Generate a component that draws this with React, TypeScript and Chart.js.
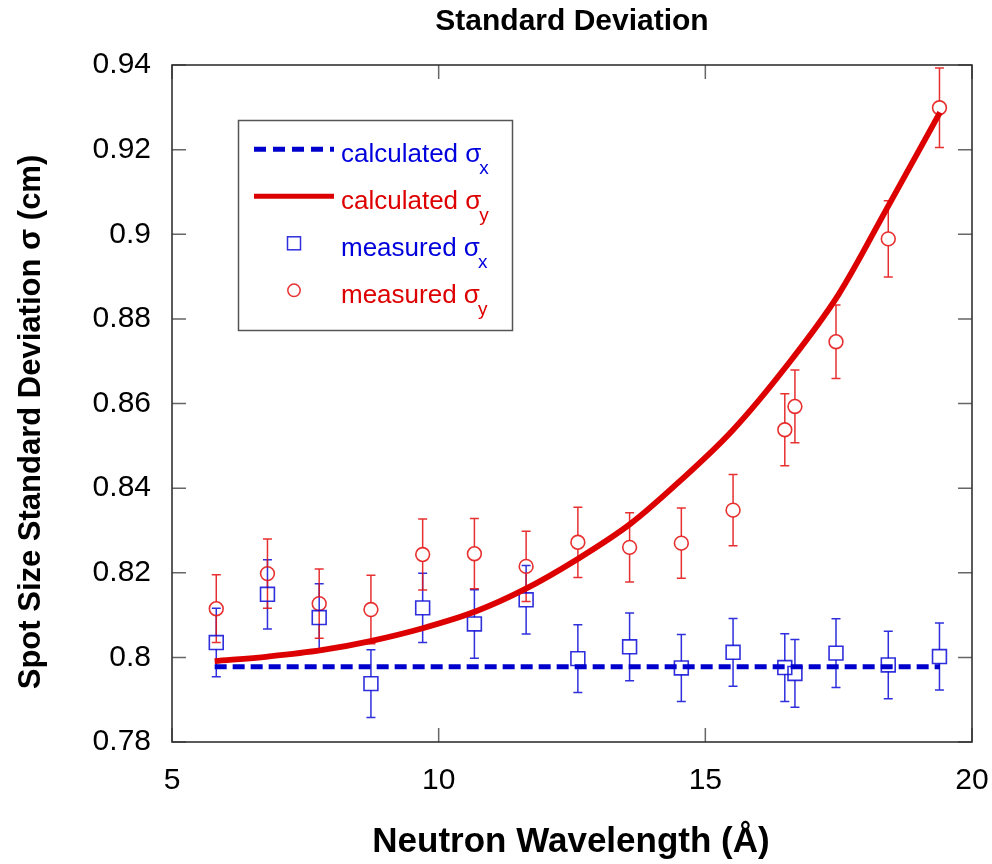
import React, { useEffect, useRef } from "react";
import { Chart, registerables } from "chart.js";

Chart.register(...registerables);

const FONT = '"Liberation Sans", Arial, Helvetica, sans-serif';
const BLUE_LINE = "rgb(0,0,205)";
const RED_LINE = "rgb(221,0,0)";
const BLUE_MARK = "rgba(10,10,215,0.85)";
const RED_MARK = "rgba(228,20,20,0.88)";
const BLUE_TEXT = "rgb(0,0,220)";
const RED_TEXT = "rgb(222,0,0)";

// ---- data ----
const wavelengths = [5.83, 6.79, 7.76, 8.73, 9.7, 10.67, 11.64, 12.61, 13.58, 14.55, 15.52, 16.49, 16.68, 17.45, 18.43, 19.39];
const measuredSigmaX = [0.8035, 0.8149, 0.8094, 0.7938, 0.8117, 0.8079, 0.8136, 0.7997, 0.8025, 0.7975, 0.8012, 0.7976, 0.7962, 0.801, 0.7982, 0.8002];
const measuredSigmaXErr = [0.0081, 0.0082, 0.008, 0.008, 0.0082, 0.0081, 0.0081, 0.008, 0.008, 0.0079, 0.008, 0.008, 0.008, 0.0081, 0.008, 0.0079];
const measuredSigmaY = [0.8115, 0.8198, 0.8127, 0.8113, 0.8243, 0.8245, 0.8215, 0.8272, 0.826, 0.827, 0.8348, 0.8538, 0.8593, 0.8746, 0.8989, 0.9299];
const measuredSigmaYErr = [0.008, 0.0082, 0.0082, 0.0081, 0.0084, 0.0083, 0.0083, 0.0083, 0.0082, 0.0083, 0.0084, 0.0085, 0.0086, 0.0087, 0.009, 0.0094];

const calcSigmaXWavelengths = [5.8, 19.4];
const calcSigmaX = [0.7978, 0.7978];

const calcSigmaYWavelengths = [5.8, 6.8, 7.8, 8.7, 9.7, 10.7, 11.6, 12.6, 13.6, 14.5, 15.5, 16.5, 17.5, 18.4, 19.4];
const calcSigmaY = [0.7991, 0.8002, 0.8017, 0.8038, 0.8069, 0.8109, 0.816, 0.8232, 0.8316, 0.8414, 0.8535, 0.8685, 0.8858, 0.906, 0.9288];

const xTicks = [5, 10, 15, 20];
const xTickLabels = ["5", "10", "15", "20"];
const yTicks = [0.78, 0.8, 0.82, 0.84, 0.86, 0.88, 0.9, 0.92, 0.94];
const yTickLabels = ["0.78", "0.8", "0.82", "0.84", "0.86", "0.88", "0.9", "0.92", "0.94"];

const chartTitle = "Standard Deviation";
const xAxisTitle = "Neutron Wavelength (Å)";
const yAxisTitle = "Spot Size Standard Deviation σ (cm)";

const legendTexts = ["calculated σ", "calculated σ", "measured σ", "measured σ"];
const legendSubs = ["x", "y", "x", "y"];
const legendKinds = ["dash", "solid", "square", "circle"];
const legendColors = [BLUE_TEXT, RED_TEXT, BLUE_TEXT, RED_TEXT];

const toPoints = (xs: number[], ys: number[]) => xs.map((x, i) => ({ x, y: ys[i] }));

const MARK_HALF = 6.8;

const errorBarPlugin = {
  id: "errorBars",
  beforeDatasetsDraw(chart: any) {
    const { ctx } = chart;
    const yScale = chart.scales.y;
    chart.data.datasets.forEach((ds: any, di: number) => {
      if (!ds.errors) return;
      const meta = chart.getDatasetMeta(di);
      ctx.save();
      ctx.strokeStyle = ds.borderColor;
      ctx.lineWidth = 1.5;
      meta.data.forEach((el: any, i: number) => {
        const v = ds.data[i].y;
        const e = ds.errors[i];
        const px = el.x;
        const py = el.y;
        const yt = yScale.getPixelForValue(v + e);
        const yb = yScale.getPixelForValue(v - e);
        ctx.beginPath();
        ctx.moveTo(px, yt);
        ctx.lineTo(px, py - MARK_HALF);
        ctx.moveTo(px, py + MARK_HALF);
        ctx.lineTo(px, yb);
        ctx.moveTo(px - 4.5, yt);
        ctx.lineTo(px + 4.5, yt);
        ctx.moveTo(px - 4.5, yb);
        ctx.lineTo(px + 4.5, yb);
        ctx.stroke();
      });
      ctx.restore();
    });
  },
};

const framePlugin = {
  id: "frame",
  afterDraw(chart: any) {
    const { ctx, chartArea: a, scales } = chart;
    const L = 14;
    ctx.save();
    ctx.strokeStyle = "#666";
    ctx.lineWidth = 1.5;
    ctx.beginPath();
    yTicks.forEach((v) => {
      const y = scales.y.getPixelForValue(v);
      ctx.moveTo(a.left, y);
      ctx.lineTo(a.left + L, y);
      ctx.moveTo(a.right - L, y);
      ctx.lineTo(a.right, y);
    });
    xTicks.forEach((v) => {
      const x = scales.x.getPixelForValue(v);
      ctx.moveTo(x, a.bottom);
      ctx.lineTo(x, a.bottom - L);
      ctx.moveTo(x, a.top);
      ctx.lineTo(x, a.top + L);
    });
    ctx.stroke();
    ctx.strokeStyle = "#333";
    ctx.lineWidth = 1.6;
    ctx.strokeRect(a.left, a.top, a.right - a.left, a.bottom - a.top);
    ctx.restore();
  },
};

const textPlugin = {
  id: "texts",
  afterDraw(chart: any) {
    const { ctx, chartArea: a } = chart;
    const cx = (a.left + a.right) / 2;
    ctx.save();
    ctx.fillStyle = "#000";
    ctx.textBaseline = "alphabetic";
    ctx.textAlign = "center";
    ctx.font = `bold 30px ${FONT}`;
    ctx.fillText(chartTitle, cx, 30);
    ctx.font = `bold 35px ${FONT}`;
    ctx.fillText(xAxisTitle, cx - 1, 852);
    ctx.save();
    ctx.translate(40, 422);
    ctx.rotate(-Math.PI / 2);
    ctx.font = `bold 31px ${FONT}`;
    ctx.fillText(yAxisTitle, 0, 0);
    ctx.restore();

    // legend box
    const bx = 238.5, by = 120.5, bw = 274, bh = 210;
    ctx.fillStyle = "#fff";
    ctx.fillRect(bx, by, bw, bh);
    ctx.strokeStyle = "#555";
    ctx.lineWidth = 1.5;
    ctx.strokeRect(bx, by, bw, bh);
    ctx.textAlign = "left";
    legendTexts.forEach((t, i) => {
      const ry = 149.3 + i * 47;
      const kind = legendKinds[i];
      ctx.save();
      if (kind === "dash") {
        ctx.strokeStyle = BLUE_LINE;
        ctx.lineWidth = 5;
        ctx.setLineDash([12, 7]);
        ctx.beginPath();
        ctx.moveTo(254, ry);
        ctx.lineTo(334, ry);
        ctx.stroke();
      } else if (kind === "solid") {
        ctx.strokeStyle = RED_LINE;
        ctx.lineWidth = 5;
        ctx.beginPath();
        ctx.moveTo(254, ry);
        ctx.lineTo(334, ry);
        ctx.stroke();
      } else if (kind === "square") {
        ctx.strokeStyle = BLUE_MARK;
        ctx.lineWidth = 1.5;
        ctx.strokeRect(294 - 6.5, ry - 6.5, 13, 13);
      } else {
        ctx.strokeStyle = RED_MARK;
        ctx.lineWidth = 1.5;
        ctx.beginPath();
        ctx.arc(294, ry, 6.2, 0, Math.PI * 2);
        ctx.stroke();
      }
      ctx.restore();
      ctx.fillStyle = legendColors[i];
      ctx.font = `26px ${FONT}`;
      ctx.fillText(t, 341, ry + 12.4);
      const w = ctx.measureText(t).width;
      ctx.font = `19px ${FONT}`;
      ctx.fillText(legendSubs[i], 341 + w - 2, ry + 25);
    });
    ctx.restore();
  },
};

export default function App() {
  const canvasRef = useRef<HTMLCanvasElement | null>(null);

  useEffect(() => {
    const canvas = canvasRef.current;
    if (!canvas) return;
    const chart = new Chart(canvas, {
      type: "scatter",
      data: {
        datasets: [
          {
            label: "calculated σx",
            data: toPoints(calcSigmaXWavelengths, calcSigmaX),
            showLine: true,
            borderColor: BLUE_LINE,
            borderWidth: 5,
            borderDash: [12, 6],
            pointRadius: 0,
            fill: false,
          } as any,
          {
            label: "calculated σy",
            data: toPoints(calcSigmaYWavelengths, calcSigmaY),
            showLine: true,
            borderColor: RED_LINE,
            borderWidth: 5.8,
            cubicInterpolationMode: "monotone",
            pointRadius: 0,
            fill: false,
          },
          {
            label: "measured σx",
            data: toPoints(wavelengths, measuredSigmaX),
            errors: measuredSigmaXErr,
            showLine: false,
            pointStyle: "rect",
            pointRadius: 9.8,
            borderColor: BLUE_MARK,
            backgroundColor: "rgba(0,0,0,0)",
            borderWidth: 1.6,
          },
          {
            label: "measured σy",
            data: toPoints(wavelengths, measuredSigmaY),
            errors: measuredSigmaYErr,
            showLine: false,
            pointStyle: "circle",
            pointRadius: 6.9,
            borderColor: RED_MARK,
            backgroundColor: "rgba(0,0,0,0)",
            borderWidth: 1.6,
          },
        ] as any,
      },
      options: {
        responsive: false,
        animation: false,
        devicePixelRatio: 1,
        layout: { padding: { left: 0, top: 65, right: 20, bottom: 0 } },
        plugins: {
          legend: { display: false },
          title: { display: false },
          tooltip: { enabled: false },
        },
        scales: {
          x: {
            type: "linear",
            min: 5,
            max: 20,
            afterBuildTicks: (s: any) => {
              s.ticks = xTicks.map((v) => ({ value: v }));
            },
            afterFit: (s: any) => {
              s.height = 122;
              s.paddingLeft = 0;
              s.paddingRight = 0;
            },
            grid: { display: false, drawTicks: false },
            border: { display: false },
            ticks: {
              padding: 21,
              color: "#000",
              font: { family: FONT, size: 30 },
              maxRotation: 0,
              callback: (_v: any, i: number) => xTickLabels[i],
            },
          },
          y: {
            type: "linear",
            min: 0.78,
            max: 0.94,
            afterBuildTicks: (s: any) => {
              s.ticks = yTicks.map((v) => ({ value: v }));
            },
            afterFit: (s: any) => {
              s.width = 172;
              s.paddingTop = 0;
              s.paddingBottom = 0;
            },
            grid: { display: false, drawTicks: false },
            border: { display: false },
            ticks: {
              padding: 21,
              color: "#000",
              font: { family: FONT, size: 30 },
              callback: (_v: any, i: number) => yTickLabels[i],
            },
          },
        },
      } as any,
      plugins: [errorBarPlugin, framePlugin, textPlugin],
    });
    return () => chart.destroy();
  }, []);

  return (
    <div style={{ position: "absolute", left: 0, top: 0, width: 992, height: 864, background: "#fff" }}>
      <canvas ref={canvasRef} width={992} height={864} style={{ display: "block" }} />
    </div>
  );
}
